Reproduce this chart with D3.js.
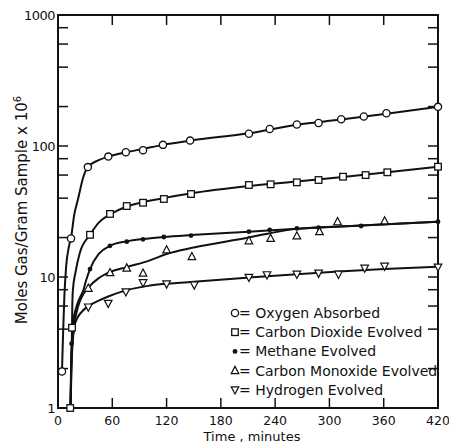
<!DOCTYPE html>
<html><head><meta charset="utf-8">
<script src="https://cdn.jsdelivr.net/npm/d3@7"></script>
<style>body{margin:0;background:#fff}svg{display:block}text{font-family:"DejaVu Sans",sans-serif;fill:#111}</style>
</head><body><svg id="c" width="449" height="444"></svg>
<script>
// ---- data (time in minutes, moles/g x 10^6) ----
const xTicks = [0,60,120,180,240,300,360,420];
const yTickLabels = [1,10,100,1000];
const yMinor = [2,4,6,8,20,40,60,80,200,400,600,800];

const oxT = [4.4,14.4,33,55.6,75,94,116,146,211,234,264,288,313,338,363,420];
const oxV = [1.9,19.7,69,83,89.5,93,102,110,124,135,146,150,160,168,178,199];
const oxFitT = [4.4,5.5,7,9,12,14.4,18,22,28,33,45,55.6,75,94,116,146,211,264,313,363,420];
const oxFitV = [1.9,3.5,7,12,17,20,30,39,58,69,78,83,89.5,95,102,110,125,145,159,176,199];

const co2T = [13.5,15.5,35.4,57.5,76,94,117,147,211,235,264,288,315,340,364,420];
const co2V = [1,4.1,21,30.3,34.8,36.9,39.4,43,50.4,51,52.8,55,58.3,60,63,69.5];
const co2FitT = [13.5,14.5,15.5,15.8,16.5,19.5,24,35.4,45,57.5,76,94,117,147,211,264,315,364,420];
const co2FitV = [1,2,4.1,6,8,11,15.2,21,26,30,34.5,37.3,40,43.5,49.5,53.5,58,63,69.5];

const chT = [15,35.4,57.5,76,94,117,147,211,234,264,288,335,420];
const chV = [3.1,11.5,17.3,18.6,19.4,20.2,20.7,22.2,22.9,23.5,23.8,24.5,26.4];
const chFitT = [14,14.6,15.3,17,20,24,28,31,35.4,45,57.5,76,94,117,147,211,264,335,420];
const chFitV = [1,2,3.1,4.6,5.8,6.9,7.9,9.4,11.5,15,17.3,18.7,19.5,20.2,20.9,22.2,23.4,24.7,26.4];

const coT = [33.5,57.5,76,94,120,148,211,235,264,289,309,361];
const coV = [8.2,10.8,11.7,10.7,16.1,14.3,18.9,19.7,20.6,22.2,26.4,26.8];
const coFitT = [14,14.8,16,18.5,23,28,33.5,45,57.5,76,101.5,120,150,212,234,264,335,420];
const coFitV = [1,2,3,4.5,6.2,7.4,8.3,9.8,10.9,11.9,13.4,15,16.8,20.1,21.6,23.3,24.7,26.4];

const h2T = [33.5,55.5,75,94,120,150.6,211,231,264,288,310,339,361,420];
const h2V = [5.9,6.3,7.7,9.05,8.85,8.7,9.95,10.4,10.5,10.7,10.5,11.7,12.1,11.9];
const h2FitT = [14,14.6,15.5,17.5,21,26,33.5,45,55.5,75,101.5,150,211,264,310,361,420];
const h2FitV = [1,2,3,4,4.8,5.4,6,6.6,7.1,7.9,8.6,9.2,9.9,10.5,11,11.5,12];

const legendLabels = ["Oxygen Absorbed","Carbon Dioxide Evolved","Methane Evolved","Carbon Monoxide Evolved","Hydrogen Evolved"];

// ---- drawing ----
const svg = d3.select("#c");
const x = d3.scaleLinear().domain([0,420]).range([58,438]);
const y = d3.scaleLog().domain([1,1000]).range([408,15]);
const L=58,R=438,T=15,B=408;

const series = [
  {pt:oxT,pv:oxV,ft:oxFitT,fv:oxFitV,sym:"circle"},
  {pt:co2T,pv:co2V,ft:co2FitT,fv:co2FitV,sym:"square"},
  {pt:chT,pv:chV,ft:chFitT,fv:chFitV,sym:"dot"},
  {pt:coT,pv:coV,ft:coFitT,fv:coFitV,sym:"tri"},
  {pt:h2T,pv:h2V,ft:h2FitT,fv:h2FitV,sym:"itri"}
];

// frame
svg.append("rect").attr("x",L).attr("y",T).attr("width",R-L).attr("height",B-T)
  .attr("fill","none").attr("stroke","#111").attr("stroke-width",2);

// ticks
const g = svg.append("g").attr("stroke","#111").attr("stroke-width",1.5);
xTicks.slice(1,-1).forEach(t=>{
  g.append("line").attr("x1",x(t)).attr("x2",x(t)).attr("y1",B).attr("y2",B-10);
  g.append("line").attr("x1",x(t)).attr("x2",x(t)).attr("y1",T).attr("y2",T+10);
});
yMinor.concat([10,100]).forEach(v=>{
  g.append("line").attr("x1",L).attr("x2",L+10).attr("y1",y(v)).attr("y2",y(v));
  g.append("line").attr("x1",R).attr("x2",R-10).attr("y1",y(v)).attr("y2",y(v));
});

// tick labels
xTicks.forEach(t=>{
  svg.append("text").attr("x",x(t)).attr("y",B+17).attr("text-anchor","middle")
    .attr("font-size",12.5).text(t);
});
yTickLabels.forEach(v=>{
  svg.append("text").attr("x",L-3).attr("y",y(v)+5).attr("text-anchor","end")
    .attr("font-size",13).attr("letter-spacing",-0.5).text(v);
});

// axis titles
svg.append("text").attr("x",252).attr("y",441).attr("text-anchor","middle")
  .attr("font-size",13).text("Time , minutes");
const yt = svg.append("text").attr("transform","translate(27,210) rotate(-90)")
  .attr("text-anchor","middle").attr("font-size",15);
yt.append("tspan").text("Moles Gas/Gram Sample x 10");
yt.append("tspan").attr("dy",-6).attr("font-size",10).text("6");

// curves
const line = d3.line().x(d=>x(d[0])).y(d=>y(d[1])).curve(d3.curveMonotoneX);
series.forEach(s=>{
  svg.append("path").datum(s.ft.map((t,i)=>[t,s.fv[i]]))
    .attr("d",line).attr("fill","none").attr("stroke","#111").attr("stroke-width",2);
});

// markers
function marker(sel,type,cx,cy){
  if(type==="circle"){
    sel.append("circle").attr("cx",cx).attr("cy",cy).attr("r",3.6)
      .attr("fill","#fff").attr("stroke","#111").attr("stroke-width",1.3);
  } else if(type==="square"){
    sel.append("rect").attr("x",cx-3.3).attr("y",cy-3.3).attr("width",6.6).attr("height",6.6)
      .attr("fill","#fff").attr("stroke","#111").attr("stroke-width",1.3);
  } else if(type==="dot"){
    sel.append("circle").attr("cx",cx).attr("cy",cy).attr("r",2.4).attr("fill","#111");
  } else if(type==="tri"){
    sel.append("path").attr("d",`M${cx},${cy-4.2}L${cx+3.8},${cy+3}L${cx-3.8},${cy+3}Z`)
      .attr("fill","#fff").attr("stroke","#111").attr("stroke-width",1.2);
  } else {
    sel.append("path").attr("d",`M${cx},${cy+4.2}L${cx+3.8},${cy-3}L${cx-3.8},${cy-3}Z`)
      .attr("fill","#fff").attr("stroke","#111").attr("stroke-width",1.2);
  }
}
series.forEach(s=>{
  const mg = svg.append("g");
  s.pt.forEach((t,i)=>marker(mg,s.sym,x(t),y(s.pv[i])));
});

// legend
const legY0 = 313, legDy = 19.2;
legendLabels.forEach((lab,i)=>{
  const ly = legY0 + i*legDy;
  marker(svg,series[i].sym,235,ly);
  svg.append("text").attr("x",239).attr("y",ly+5).attr("font-size",14).text("= "+lab);
});
</script></body></html>
